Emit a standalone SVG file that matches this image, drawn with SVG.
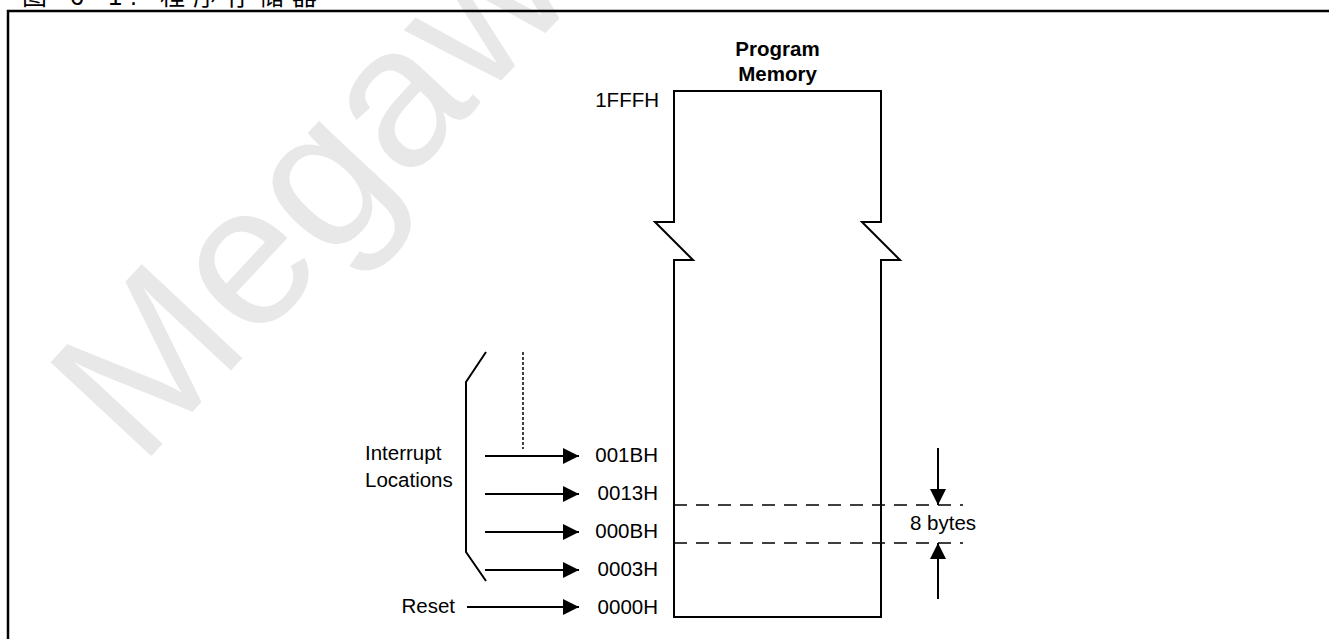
<svg xmlns="http://www.w3.org/2000/svg" width="1329" height="639" viewBox="0 0 1329 639">
<style>
  .t { font-family: "Liberation Sans", Arial, sans-serif; font-size: 20.5px; fill: #000; }
  .b { font-weight: bold; }
  .ln { stroke: #000; stroke-width: 2; fill: none; }
  .dash { stroke: #000; stroke-width: 1.5; fill: none; stroke-dasharray: 13 9; }
</style>
<defs>
  <marker id="arr" markerWidth="16" markerHeight="16" refX="16" refY="8" orient="auto" markerUnits="userSpaceOnUse">
    <path d="M0,0 L16,8 L0,16 Z" fill="#000"/>
  </marker>
</defs>
<rect width="1329" height="639" fill="#fff"/>
<text x="140" y="468" transform="rotate(-47 140 468)" font-family="Liberation Sans, Arial, sans-serif" font-size="200" fill="#e8e8e8">Megawin</text>
<text x="22" y="5" font-family="Liberation Sans, Noto Sans CJK SC, sans-serif" font-size="25" letter-spacing="8" fill="#000">图 6-1. 程序存储器</text>
<rect x="8" y="11" width="1340" height="650" fill="none" stroke="#000" stroke-width="2.5"/>

<g id="memory">
  <path class="ln" d="M674,91 H881 V222 H862 L900,260 H881 V617 H674 V260 H693 L655,222 H674 Z"/>
  <text class="t b" x="777.5" y="56" text-anchor="middle">Program</text>
  <text class="t b" x="777.5" y="81" text-anchor="middle">Memory</text>
</g>

<g id="addresses">
  <text class="t" x="659" y="107" text-anchor="end">1FFFH</text>
  <text class="t" x="658" y="462" text-anchor="end">001BH</text>
  <text class="t" x="658" y="500" text-anchor="end">0013H</text>
  <text class="t" x="658" y="538" text-anchor="end">000BH</text>
  <text class="t" x="658" y="576" text-anchor="end">0003H</text>
  <text class="t" x="658" y="614" text-anchor="end">0000H</text>
</g>

<g id="interrupts">
  <path class="ln" d="M486,352 L466,382 V552 L486,581"/>
  <text class="t" x="365" y="460">Interrupt</text>
  <text class="t" x="365" y="487">Locations</text>
</g>

<g id="reset">
  <text class="t" x="455" y="613" text-anchor="end">Reset</text>
</g>

<g id="eightbytes">
  <text class="t" x="910" y="530">8 bytes</text>
</g>

<g id="connectors">
  <line x1="523" y1="352" x2="523" y2="449" stroke="#000" stroke-width="1.5" stroke-dasharray="3 2"/>
  <line class="ln" x1="485" y1="456" x2="579" y2="456" marker-end="url(#arr)"/>
  <line class="ln" x1="485" y1="494" x2="579" y2="494" marker-end="url(#arr)"/>
  <line class="ln" x1="485" y1="532" x2="579" y2="532" marker-end="url(#arr)"/>
  <line class="ln" x1="485" y1="570" x2="579" y2="570" marker-end="url(#arr)"/>
  <line class="ln" x1="467" y1="607" x2="579" y2="607" marker-end="url(#arr)"/>
  <line class="dash" x1="674" y1="505" x2="963" y2="505"/>
  <line class="dash" x1="674" y1="543" x2="963" y2="543"/>
  <line class="ln" x1="938" y1="448" x2="938" y2="505" marker-end="url(#arr)"/>
  <line class="ln" x1="938" y1="599" x2="938" y2="543" marker-end="url(#arr)"/>
</g>
</svg>
